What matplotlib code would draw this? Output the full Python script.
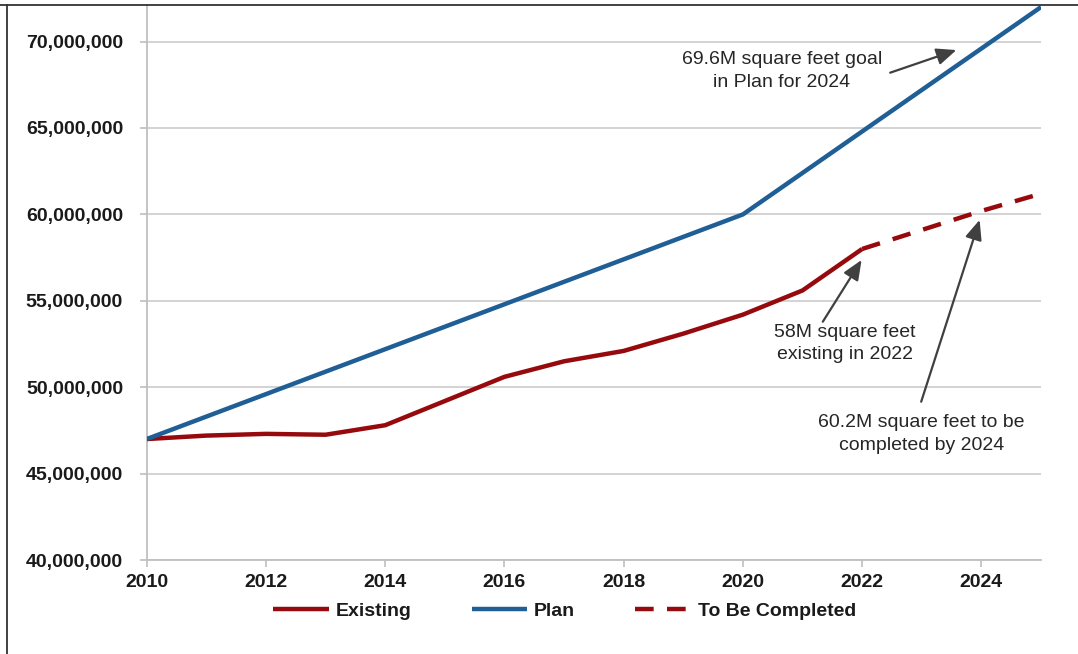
import matplotlib
matplotlib.use("Agg")
import matplotlib.pyplot as plt
from matplotlib.lines import Line2D
from matplotlib.ticker import FuncFormatter

# Square footage over time
existing_years = [2010, 2011, 2012, 2013, 2014, 2015, 2016, 2017, 2018, 2019, 2020, 2021, 2022]
existing_sqft = [47.0e6, 47.2e6, 47.3e6, 47.25e6, 47.8e6, 49.2e6, 50.6e6, 51.5e6, 52.1e6,
                 53.1e6, 54.2e6, 55.6e6, 58.0e6]

plan_years = [2010, 2020, 2024, 2025]
plan_sqft = [47.0e6, 60.0e6, 69.6e6, 72.0e6]

tbc_years = [2022, 2023, 2024, 2025]
tbc_sqft = [58.0e6, 59.1e6, 60.2e6, 61.2e6]

x_ticks = [2010, 2012, 2014, 2016, 2018, 2020, 2022, 2024]
y_ticks = [40e6, 45e6, 50e6, 55e6, 60e6, 65e6, 70e6]

RED = "#960a0e"
BLUE = "#1f5f96"
ARROW = "#404040"
TEXT = "#262626"

plt.rcParams["font.family"] = ["Liberation Sans", "DejaVu Sans"]

fig = plt.figure(figsize=(10.78, 6.54), dpi=100)
ax = fig.add_axes([0.1361, 0.1437, 0.8296, 0.8482])

ax.plot(existing_years, existing_sqft, color=RED, lw=3.2, solid_capstyle="butt",
        label="Existing", zorder=3)
ax.plot(plan_years, plan_sqft, color=BLUE, lw=3.2, solid_capstyle="butt",
        label="Plan", zorder=3)
ax.plot(tbc_years, tbc_sqft, color=RED, lw=3.2, dashes=(4.2, 3.0),
        label="To Be Completed", zorder=3)

ax.set_xlim(2010, 2025)
ax.set_ylim(40e6, 72.1e6)
ax.set_xticks(x_ticks)
ax.set_yticks(y_ticks)
ax.yaxis.set_major_formatter(FuncFormatter(lambda v, p: f"{int(v):,}"))

ax.grid(axis="y", color="#d0d0d0", lw=1.3)
ax.set_axisbelow(True)
for side in ("top", "right"):
    ax.spines[side].set_visible(False)
for side in ("left", "bottom"):
    ax.spines[side].set_color("#bfbfbf")
    ax.spines[side].set_linewidth(1.3)

ax.tick_params(axis="both", colors="#bfbfbf", width=1.2, length=5,
               labelcolor="#1a1a1a", labelsize=14)
ax.tick_params(axis="x", pad=5)
ax.tick_params(axis="y", pad=12)
for lbl in ax.get_xticklabels() + ax.get_yticklabels():
    lbl.set_fontweight("bold")

# Callouts
arrow_props = dict(arrowstyle="-|>,head_length=0.75,head_width=0.32", color=ARROW,
                   lw=1.6, mutation_scale=16, shrinkA=0, shrinkB=0)

ax.text(2020.65, 68.30e6, "69.6M square feet goal\nin Plan for 2024", ha="center",
        va="center", fontsize=14, color=TEXT, linespacing=1.45)
ax.annotate("", xy=(2023.58, 69.51e6), xytext=(2022.47, 68.20e6), arrowprops=arrow_props)

ax.text(2021.71, 52.53e6, "58M square feet\nexisting in 2022", ha="center",
        va="center", fontsize=14, color=TEXT, linespacing=1.45)
ax.annotate("", xy=(2021.99, 57.36e6), xytext=(2021.34, 53.79e6), arrowprops=arrow_props)

ax.text(2022.99, 47.29e6, "60.2M square feet to be\ncompleted by 2024", ha="center",
        va="center", fontsize=14, color=TEXT, linespacing=1.45)
ax.annotate("", xy=(2023.97, 59.68e6), xytext=(2022.99, 49.16e6), arrowprops=arrow_props)

leg = fig.legend(loc="center", bbox_to_anchor=(0.5237, 0.066), ncol=3, frameon=False,
                 prop={"weight": "bold", "size": 14}, handlelength=2.85,
                 handletextpad=0.35, columnspacing=3.1, borderaxespad=0)
for t in leg.get_texts():
    t.set_color("#1a1a1a")

# Outer frame lines along the top and left edges
fig.add_artist(Line2D([0.0, 1.0], [1 - 4.5 / 654, 1 - 4.5 / 654], color="#333333", lw=1.3,
                      transform=fig.transFigure))
fig.add_artist(Line2D([6.5 / 1078, 6.5 / 1078], [0.0, 1 - 4.5 / 654], color="#333333", lw=1.3,
                      transform=fig.transFigure))

fig.savefig("out.png", dpi=100)
